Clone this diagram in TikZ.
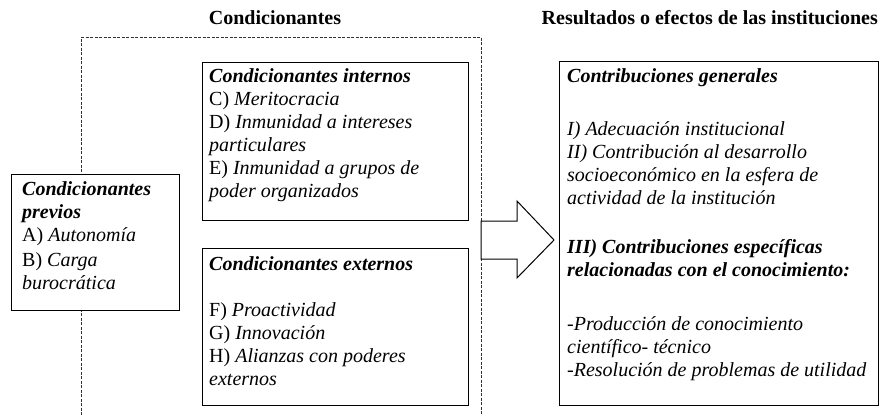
\documentclass[tikz,border=0pt]{standalone}
\usepackage{fontspec}
\setmainfont{Liberation Serif}
\usepackage{tikz}

\begin{document}
\begin{tikzpicture}[
  x=1pt, y=-1pt,
  box/.style={draw, fill=white, line width=1pt, anchor=north west, inner sep=0pt},
  txt/.style={anchor=north west, align=left, inner sep=0pt, font=\fontsize{20}{23}\selectfont},
  heading/.style={inner sep=0pt, font=\fontsize{20}{23}\selectfont\bfseries},
  frame/.style={dash pattern=on 3pt off 1.5pt, line width=0.8pt, black!80},
  blockarrow/.style={draw, fill=white, line width=1pt, line join=miter}
]
\useasboundingbox (0,0) rectangle (880,415);

\node[heading] (tcond) at (275,18) {Condicionantes};
\node[heading, anchor=east] (tres) at (878,18) {Resultados o efectos de las instituciones};

\draw[frame] (81,415) |- (481,37) -- (481,415);

\node[box, minimum width=168pt, minimum height=136pt] (prev) at (11,174) {};
\node[txt] at ([shift={(11,7)}]prev.north west)
  {\textbf{\textit{Condicionantes}}\\
   \textbf{\textit{previos}}\\
   A) \textit{Autonomía}\\[2pt]
   B) \textit{Carga}\\
   \textit{burocrática}};

\node[box, minimum width=266pt, minimum height=158pt] (int) at (202,62) {};
\node[txt] at ([shift={(7,6)}]int.north west)
  {\textbf{\textit{Condicionantes internos}}\\
   C) \textit{Meritocracia}\\
   D) \textit{Inmunidad a intereses}\\
   \textit{particulares}\\
   E) \textit{Inmunidad a grupos de}\\
   \textit{poder organizados}};

\node[box, minimum width=266pt, minimum height=157pt] (ext) at (202,248) {};
\node[txt] at ([shift={(7,8)}]ext.north west)
  {\textbf{\textit{Condicionantes externos}}\\[23pt]
   F) \textit{Proactividad}\\
   G) \textit{Innovación}\\
   H) \textit{Alianzas con poderes}\\
   \textit{externos}};

\node[box, minimum width=319pt, minimum height=344pt] (res) at (559,61) {};
\node[txt] at ([shift={(8,7)}]res.north west)
  {\textbf{\textit{Contribuciones generales}}\\[30pt]
   \textit{I) Adecuación institucional}\\
   \textit{II) Contribución al desarrollo}\\
   \textit{socioeconómico en la esfera de}\\
   \textit{actividad de la institución}\\[26pt]
   \textbf{\textit{III) Contribuciones específicas}}\\
   \textbf{\textit{relacionadas con el conocimiento:}}\\[31pt]
   \textit{-Producción de conocimiento}\\
   \textit{científico- técnico}\\
   \textit{-Resolución de problemas de utilidad}};

\draw[blockarrow] (481,221) -- (517,221) -- (517,201) -- (554,240)
  -- (517,278) -- (517,259) -- (481,259) -- cycle;
\end{tikzpicture}
\end{document}
